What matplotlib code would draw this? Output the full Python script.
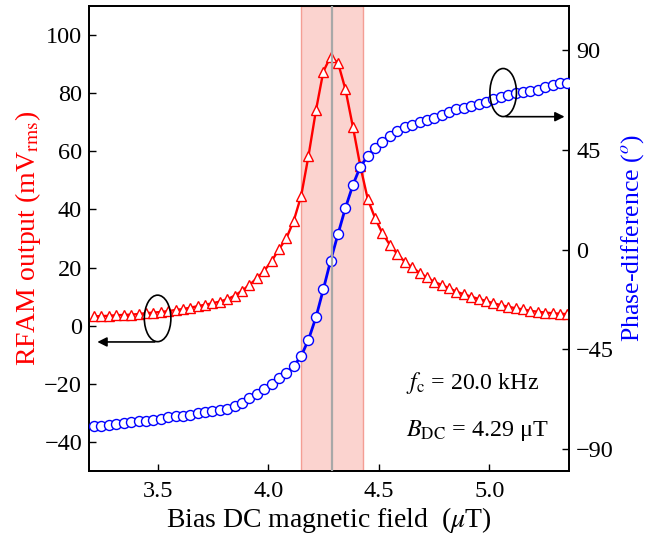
import matplotlib
matplotlib.use("Agg")
import matplotlib.pyplot as plt
from matplotlib.patches import Ellipse

plt.rcParams['font.family'] = ['Liberation Serif', 'DejaVu Serif']
plt.rcParams['mathtext.fontset'] = 'stix'

# Bias DC magnetic field (uT)
field = [3.213, 3.246, 3.280, 3.313, 3.347, 3.380, 3.414, 3.447, 3.480, 3.514,
         3.547, 3.581, 3.614, 3.647, 3.681, 3.714, 3.748, 3.781, 3.815, 3.848,
         3.881, 3.915, 3.948, 3.982, 4.015, 4.049, 4.082, 4.115, 4.149, 4.182,
         4.216, 4.249, 4.282, 4.316, 4.349, 4.383, 4.416, 4.450, 4.483, 4.516,
         4.550, 4.583, 4.617, 4.650, 4.684, 4.717, 4.750, 4.784, 4.817, 4.851,
         4.884, 4.917, 4.951, 4.984, 5.018, 5.051, 5.085, 5.118, 5.152, 5.185,
         5.218, 5.252, 5.285, 5.319, 5.352]

# RFAM output (mV rms)
rfam = [3.2, 3.3, 3.4, 3.6, 3.7, 3.8, 4.0, 4.3, 4.5, 4.7,
        5.0, 5.4, 5.7, 6.2, 6.7, 7.2, 7.7, 8.3, 9.1, 10.3,
        12.0, 14.0, 16.3, 18.9, 22.2, 26.3, 30.1, 36.0, 44.7, 58.4,
        74.2, 87.4, 92.6, 90.3, 81.3, 68.3, 55.0, 43.5, 37.0, 31.8,
        27.8, 24.7, 22.0, 20.1, 18.2, 16.6, 15.1, 14.0, 12.9, 11.7,
        10.8, 10.0, 9.2, 8.5, 7.7, 7.1, 6.5, 6.0, 5.6, 5.1,
        4.8, 4.5, 4.3, 4.1, 4.0]

# Phase difference (deg)
phase = [-79.7, -79.6, -79.1, -78.7, -78.2, -78.0, -77.4, -77.3, -77.0, -76.4,
         -75.8, -75.3, -75.0, -74.7, -74.0, -73.4, -72.8, -72.5, -71.9, -70.7,
         -69.2, -67.2, -65.2, -63.1, -60.7, -58.2, -55.6, -52.6, -48.1, -40.7,
         -30.5, -18.0, -5.0, 7.2, 18.8, 29.2, 37.4, 42.2, 46.0, 48.7,
         51.1, 53.4, 55.2, 56.3, 57.4, 58.3, 59.4, 60.6, 61.9, 63.3,
         64.0, 64.9, 65.7, 66.6, 67.9, 68.9, 69.6, 70.6, 71.3, 71.7,
         72.2, 73.2, 74.3, 75.0, 75.0]

left_ticks = [-40, -20, 0, 20, 40, 60, 80, 100]
right_ticks = [-90, -45, 0, 45, 90]
x_ticks = [3.5, 4.0, 4.5, 5.0]
band = (4.15, 4.43)
b_dc = 4.29

fig = plt.figure(figsize=(6.47, 5.37), dpi=100)
ax1 = fig.add_axes([0.1376, 0.1229, 0.742, 0.866])
ax2 = ax1.twinx()

ax1.axvspan(band[0], band[1], facecolor=(0.985, 0.80, 0.78, 0.85),
            edgecolor=(0.95, 0.55, 0.5, 0.8), lw=1.0, zorder=0)

ax1.plot(field, rfam, color='#ff0000', lw=1.7, marker='^', ms=7.6,
         mfc='white', mec='#ff0000', mew=1.0, zorder=3)
ax2.plot(field, phase, color='#0000ff', lw=2.0, marker='o', ms=7.2,
         mfc='white', mec='#0000ff', mew=1.0, zorder=3)
ax2.axvline(b_dc, color='#a8a8a8', lw=1.6, zorder=5)

ax1.set_xlim(3.19, 5.36)
ax1.set_ylim(-50, 110)
ax2.set_ylim(-100, 110)
ax1.set_xticks(x_ticks)
ax1.set_xticklabels(['3.5', '4.0', '4.5', '5.0'])
ax1.set_yticks(left_ticks)
ax2.set_yticks(right_ticks)

for ax in (ax1, ax2):
    ax.tick_params(direction='in', length=5, width=1.0, labelsize=17.5, pad=5)
    for s in ax.spines.values():
        s.set_linewidth(1.3)
ax1.tick_params(axis='x', pad=7)

ax1.set_xlabel(r'Bias DC magnetic field  ($\mu$T)', fontsize=20, labelpad=2)
ax1.set_ylabel(r'RFAM output (mV$_{\rm rms}$)', fontsize=20, color='#ff0000', labelpad=1)
ax2.set_ylabel(r'Phase-difference ($^{o}$)', fontsize=18.5, color='#0000ff', labelpad=4)

# ellipses with arrows
ax1.add_patch(Ellipse((3.5, 2.5), 0.12, 16.0, fill=False, ec='black', lw=1.2, zorder=6))
ax1.annotate('', xy=(3.215, -5.6), xytext=(3.5, -5.6),
             arrowprops=dict(arrowstyle='-|>', color='black', lw=1.2, mutation_scale=14),
             zorder=6)
ax2.add_patch(Ellipse((5.062, 70.9), 0.12, 21.7,
                      fill=False, ec='black', lw=1.2, zorder=6))
ax2.annotate('', xy=(5.352, 60.0), xytext=(5.062, 60.0),
             arrowprops=dict(arrowstyle='-|>', color='black', lw=1.2, mutation_scale=14),
             zorder=6)

ax2.text(0.66, 0.19, r'$f_{\rm c}$ = 20.0 kHz', transform=ax1.transAxes,
         fontsize=17.2, ha='left', va='center')
ax2.text(0.66, 0.088, r'$B_{\rm DC}$ = 4.29 μT', transform=ax1.transAxes,
         fontsize=17.4, ha='left', va='center')

fig.savefig('out.png', dpi=100)
